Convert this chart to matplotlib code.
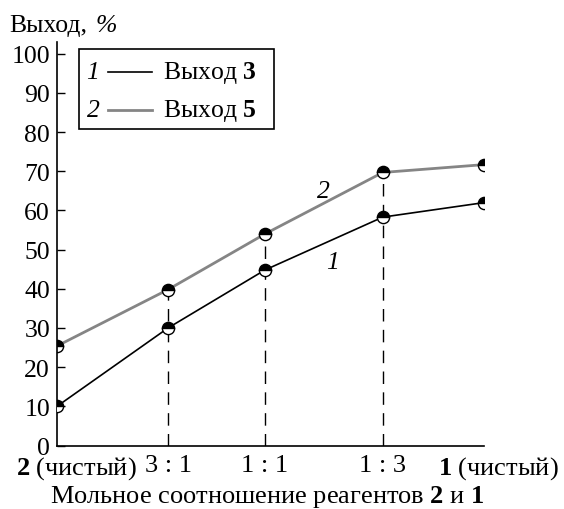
import matplotlib
matplotlib.use("Agg")
import matplotlib.pyplot as plt
import matplotlib.transforms as mtransforms
from matplotlib.patches import Rectangle
from matplotlib.lines import Line2D

plt.rcParams['font.family'] = 'Liberation Serif'
plt.rcParams['mathtext.fontset'] = 'custom'
plt.rcParams['mathtext.rm'] = 'Liberation Serif'
plt.rcParams['mathtext.it'] = 'Liberation Serif:italic'
plt.rcParams['mathtext.bf'] = 'Liberation Serif:bold'

# position on the x axis (share of 1) and yields, %
ratio_pos = [0.0, 0.26, 0.487, 0.763, 1.0]
ratio_labels = [r"$\mathbf{2}$ (чистый)", "3 : 1", "1 : 1", "1 : 3",
                r"$\mathbf{1}$ (чистый)"]
yield_3 = [10, 30, 44.8, 58.3, 62]
yield_5 = [25.4, 39.8, 54, 69.7, 71.7]
yticks = list(range(0, 101, 10))

fs = 18.5
fs_x = 19
W, H = 564, 510


def px(x, y):
    return x / W, 1 - y / H


fig = plt.figure(figsize=(W / 100, H / 100), dpi=100)
ax = fig.add_axes([57 / W, 1 - 446.5 / H, 427 / W, (446.5 - 43) / H])

# dashed guide lines up to the upper curve
ax.vlines(ratio_pos[1:4], 0, yield_5[1:4], colors='black',
          linestyles=(0, (9, 6)), linewidth=1.0, zorder=1)

mk = dict(marker='o', markersize=8.8, fillstyle='top',
          markerfacecolor='black', markerfacecoloralt='white',
          markeredgecolor='black', markeredgewidth=1.0)
ax.plot(ratio_pos, yield_5, color='#858585', linewidth=2.0, zorder=2, **mk)
ax.plot(ratio_pos, yield_3, color='black', linewidth=1.2, zorder=3, **mk)

ax.set_xlim(0, 1)
ax.set_ylim(0, 103)
for s in ['top', 'right']:
    ax.spines[s].set_visible(False)
for s in ['left', 'bottom']:
    ax.spines[s].set_linewidth(1.2)

ax.set_yticks(yticks)
ax.tick_params(axis='y', direction='in', length=6, width=1.0, pad=5,
               labelsize=fs)
ax.set_xticks(ratio_pos, ratio_labels)
ax.tick_params(axis='x', length=0, pad=6, labelsize=fs_x)
ax.set_xticks([1.0], minor=True)
ax.tick_params(axis='x', which='minor', direction='in', length=6, width=1.0)

labs = ax.get_xticklabels()
for lab, dx in [(labs[0], 19), (labs[-1], 14)]:
    lab.set_transform(lab.get_transform() +
                      mtransforms.ScaledTranslation(dx / 100, 0, fig.dpi_scale_trans))

# curve numbers
ax.text(0.625, 65, "2", style='italic', fontsize=fs, ha='center', va='center')
ax.text(0.646, 46.8, "1", style='italic', fontsize=fs, ha='center', va='center')

# axis titles
fig.text(*px(9, 26), "Выход,", fontsize=fs, ha='left', va='center')
fig.text(*px(96, 26), "%", fontsize=fs, style='italic', ha='left', va='center')
fig.text(*px(267, 497), r"Мольное соотношение реагентов $\mathbf{2}$ и $\mathbf{1}$",
         fontsize=fs_x, ha='center', va='center')

# legend box
x0, y0 = px(79, 130)
x1, y1 = px(274, 50)
fig.patches.append(Rectangle((x0, y0), x1 - x0, y1 - y0, transform=fig.transFigure,
                             facecolor='white', edgecolor='black', linewidth=1.2))
for row_y, num, col, lw, lab in [(73, "1", 'black', 1.2, r"Выход $\mathbf{3}$"),
                                 (111, "2", '#858585', 2.0, r"Выход $\mathbf{5}$")]:
    fig.text(*px(93, row_y), num, style='italic', fontsize=fs,
             ha='center', va='center')
    xa, ya = px(108, row_y)
    xb, _ = px(152, row_y)
    fig.lines.append(Line2D([xa, xb], [ya, ya], transform=fig.transFigure,
                            color=col, linewidth=lw))
    fig.text(*px(163, row_y), lab, fontsize=fs, ha='left', va='center')

fig.savefig("out.png", dpi=100)
